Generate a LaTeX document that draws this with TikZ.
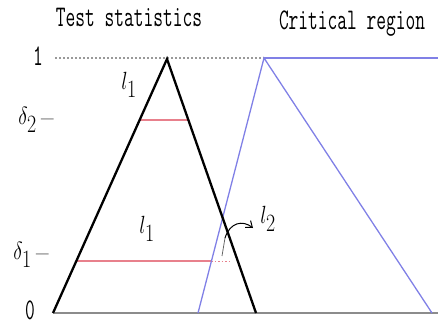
\documentclass[tikz,border=0pt]{standalone}
\usepackage{fontspec}
\usepackage{graphicx}
\usepackage{xcolor}
\usepackage{tikz}
\usetikzlibrary{arrows.meta}
\definecolor{critblue}{RGB}{128,128,230}
\definecolor{cutred}{RGB}{232,128,140}
\newcommand{\narrow}[1]{\scalebox{0.63}[1]{#1}}
\newcommand{\slim}[1]{\scalebox{0.8}[1]{#1}}
\newcommand{\lowdash}{\,\raisebox{-4pt}{--}}

\begin{document}
\begin{tikzpicture}[
  x=1pt, y=-1pt,
  tri/.style={line width=2.3pt, black},
  crit/.style={line width=1.3pt, critblue},
  cut/.style={line width=1.4pt, cutred},
  axis/.style={line width=1.8pt, black!45},
  title/.style={inner sep=0, font=\fontsize{30}{32}\selectfont\ttfamily},
  lab/.style={inner sep=0, font=\fontsize{34}{36}\selectfont},
  arr/.style={-{Straight Barb[length=2mm, width=3mm]}, line width=1pt},
]
  \useasboundingbox (0,0) rectangle (438,325);
  % test statistic triangle
  \coordinate (o) at (53,313);
  \coordinate (apex) at (167,59);
  \coordinate (tr) at (256,313);
  \coordinate (xend) at (438,313);
  \coordinate (onel) at (55,58);
  % critical region trapezoid
  \coordinate (bl) at (198,313);
  \coordinate (bt) at (264,58);
  \coordinate (br) at (432,313);
  \coordinate (btend) at (438,58);
  % cuts
  \coordinate (d2l) at (139.6,120);
  \coordinate (d2r) at (188.4,120);
  \coordinate (d1l) at (76.3,261);
  \coordinate (d1r) at (211.5,261);
  \coordinate (d1e) at (231,261);
  \coordinate (hookfoot) at (222,256);
  \coordinate (hookbend) at (225,238);
  \coordinate (hooktip) at (253,228);

  \node[title] (ttest) at (129,17) {\narrow{Test statistics}};
  \node[title] (tcrit) at (352,24) {\narrow{Critical region}};
  \node[title] (one) at (38,56) {\narrow{1}};
  \node[title] (zero) at (30,310) {\narrow{0}};
  \node[lab] (dtwo) at (36,120) {\slim{$\delta_2$\lowdash}};
  \node[lab] (done) at (31,255) {\slim{$\delta_1$\lowdash}};
  \node[lab] (lonea) at (129,85) {\slim{$l_1$}};
  \node[lab] (loneb) at (147,229) {\slim{$l_1$}};
  \node[lab] (ltwo) at (268,219) {\slim{$l_2$}};

  \draw[axis] (o) -- (xend);
  \draw[black!40, line width=1.2pt, dash pattern=on 2pt off 2pt] (onel) -- (bt);
  \draw[cut] (d2l) -- (d2r);
  \draw[cut] (d1l) -- (d1r);
  \draw[cut, dotted, line width=1pt] (d1r) -- (d1e);
  \draw[crit] (bl) -- (bt) -- (br);
  \draw[crit] (bt) -- (btend);
  \draw[tri] (o) -- (apex) -- (tr);
  \draw[line width=0.8pt, black!60] (hookfoot) -- (hookbend);
  \draw[arr] (hookbend) .. controls (230,222) and (243,220) .. (hooktip);
\end{tikzpicture}
\end{document}
